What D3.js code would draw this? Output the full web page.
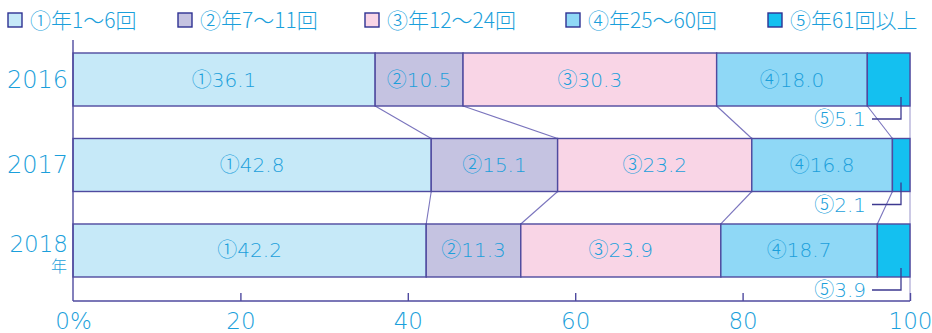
<!DOCTYPE html>
<html><head><meta charset="utf-8">
<script src="https://cdn.jsdelivr.net/npm/d3@7"></script>
<style>
html,body{margin:0;padding:0;background:#fff;}
svg{display:block;font-family:"DejaVu Sans","Noto Sans CJK JP",sans-serif;}
</style></head>
<body><svg id="c" width="932" height="333"></svg>
<script>
const years = ["2016", "2017", "2018"];
const categories = ["①年1〜6回", "②年7〜11回", "③年12〜24回", "④年25〜60回", "⑤年61回以上"];
const marks = ["①", "②", "③", "④", "⑤"];
const values2016 = [36.1, 10.5, 30.3, 18.0, 5.1];
const values2017 = [42.8, 15.1, 23.2, 16.8, 2.1];
const values2018 = [42.2, 11.3, 23.9, 18.7, 3.9];
const tickValues = [0, 20, 40, 60, 80, 100];
const tickLabels = ["0%", "20", "40", "60", "80", "100"];
const colors = ["#c6e9f8", "#c5c3e1", "#f9d5e6", "#8fd8f6", "#14c0f0"];

const series = [values2016, values2017, values2018];
const txtColor = "#1b9fdb";
const lineColor = "#4f4a9f";
const FW = 200;

const svg = d3.select("#c");
const x = d3.scaleLinear().domain([0, 100]).range([73, 910]);
const y = d3.scaleBand().domain(years).range([53, 277]).paddingInner(0.38).paddingOuter(0);
const axisY = 301;

function markText(sel, mark, rest) {
  sel.append("tspan").attr("font-family", "'Noto Sans CJK JP', sans-serif").attr("font-weight", 300).text(mark);
  sel.append("tspan").text(rest);
}

const stacked = years.map((yr, i) => {
  let c = 0;
  return series[i].map((v, j) => { const s = c; c += v; return {yr, j, v, x0: s, x1: c}; });
});

svg.append("line").attr("x1", x(100)).attr("x2", x(100)).attr("y1", y(years[0])).attr("y2", axisY)
  .attr("stroke", "#a9a5d3").attr("stroke-width", 1.2);

for (let i = 0; i < years.length - 1; i++) {
  for (let j = 0; j < 4; j++) {
    svg.append("line")
      .attr("x1", x(stacked[i][j].x1)).attr("y1", y(years[i]) + y.bandwidth())
      .attr("x2", x(stacked[i + 1][j].x1)).attr("y2", y(years[i + 1]))
      .attr("stroke", "#7a74bd").attr("stroke-width", 1.1);
  }
}

stacked.forEach((row) => {
  svg.append("g").selectAll("rect").data(row).join("rect")
    .attr("x", d => x(d.x0)).attr("y", d => y(d.yr))
    .attr("width", d => x(d.x1) - x(d.x0)).attr("height", y.bandwidth())
    .attr("fill", d => colors[d.j]).attr("stroke", lineColor).attr("stroke-width", 1.4);
});

stacked.forEach((row) => {
  row.slice(0, 4).forEach(d => {
    const t = svg.append("text").attr("x", (x(d.x0) + x(d.x1)) / 2).attr("y", y(d.yr) + y.bandwidth() / 2 + 7)
      .attr("text-anchor", "middle").attr("font-size", 20).attr("font-weight", FW)
      .attr("fill", txtColor);
    markText(t, marks[d.j], d3.format(".1f")(d.v));
  });
  const d = row[4];
  const lx = x(100) - 9;
  const top = y(d.yr) + y.bandwidth() - 9;
  const bot = y(d.yr) + y.bandwidth() + 13;
  svg.append("path").attr("d", `M${lx},${top}V${bot}H${x(100) - 38}`)
    .attr("fill", "none").attr("stroke", "#3d3990").attr("stroke-width", 1.3);
  const t = svg.append("text").attr("x", x(100) - 44).attr("y", bot + 7)
    .attr("text-anchor", "end").attr("font-size", 20).attr("font-weight", FW)
    .attr("fill", txtColor);
  markText(t, marks[4], d3.format(".1f")(d.v));
});

svg.append("line").attr("x1", x(0)).attr("x2", x(0)).attr("y1", 40).attr("y2", axisY)
  .attr("stroke", lineColor).attr("stroke-width", 1.4);
const xAxis = d3.axisBottom(x).tickValues(tickValues).tickSize(-8).tickPadding(12)
  .tickFormat((d, i) => tickLabels[i]);
const gx = svg.append("g").attr("transform", `translate(0,${axisY})`).call(xAxis);
gx.select(".domain").attr("stroke", lineColor).attr("stroke-width", 1.4).attr("d", `M${x(0)},0H${x(100)}`);
gx.selectAll(".tick line").attr("stroke", lineColor).attr("stroke-width", 1.4);
gx.selectAll(".tick").filter(d => d === 0).select("line").remove();
gx.selectAll(".tick text").attr("fill", txtColor).attr("font-size", 23).attr("font-weight", FW)
  .attr("font-family", "'DejaVu Sans', sans-serif").attr("dy", "0.71em");

years.forEach((yr, i) => {
  const cy = y(yr) + y.bandwidth() / 2;
  if (i < years.length - 1) {
    svg.append("text").attr("x", 68).attr("y", cy + 8).attr("text-anchor", "end")
      .attr("font-size", 24).attr("font-weight", FW).attr("fill", txtColor).text(yr);
  } else {
    svg.append("text").attr("x", 68).attr("y", cy + 2).attr("text-anchor", "end")
      .attr("font-size", 23).attr("font-weight", FW).attr("fill", txtColor).text(yr);
    svg.append("text").attr("x", 67).attr("y", cy + 22).attr("text-anchor", "end")
      .attr("font-size", 16).attr("font-family", "'Noto Sans CJK JP', sans-serif").attr("font-weight", 300)
      .attr("fill", txtColor).text("年");
  }
});

const legX = [8, 178, 365, 566, 768];
categories.forEach((c, i) => {
  const g = svg.append("g").attr("transform", `translate(${legX[i]},13)`);
  g.append("rect").attr("width", 14).attr("height", 14).attr("fill", colors[i])
    .attr("stroke", "#2e3192").attr("stroke-width", 1.4);
  g.append("text").attr("x", 22).attr("y", 15).attr("font-size", 21).attr("font-weight", 300)
    .attr("font-family", "'Noto Sans CJK JP', sans-serif")
    .attr("fill", txtColor).text(c);
});
</script></body></html>
